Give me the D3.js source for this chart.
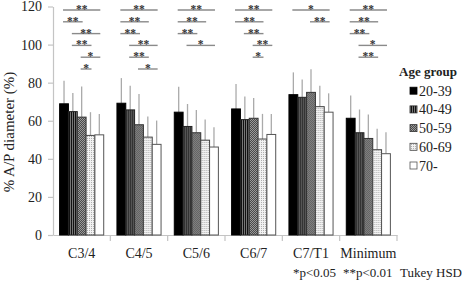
<!DOCTYPE html>
<html>
<head>
<meta charset="utf-8">
<script src="https://cdn.jsdelivr.net/npm/d3@7"></script>
<style>
  body { margin: 0; background: #fff; }
  svg { display: block; }
</style>
</head>
<body>
<svg id="chart" width="472" height="281"></svg>
<script>
// categories and age groups
var categories = ['C3/4', 'C4/5', 'C5/6', 'C6/7', 'C7/T1', 'Minimum'];
var ageGroups = ['20-39', '40-49', '50-59', '60-69', '70-'];
var yTicks = [0, 20, 40, 60, 80, 100, 120];

// mean values, one array per age group (order follows categories)
var age2039 = [68.9, 69.2, 64.5, 66.2, 73.7, 61.3];
var age4049 = [64.8, 65.7, 57.0, 60.6, 72.3, 53.7];
var age5059 = [61.9, 57.9, 53.7, 61.3, 74.9, 50.7];
var age6069 = [52.3, 51.4, 49.8, 50.4, 67.4, 44.8];
var age70 = [52.6, 47.6, 46.2, 52.8, 64.5, 42.7];

// upper end of the error bars (mean + SD)
var err2039 = [81.0, 82.4, 77.9, 79.3, 85.4, 73.2];
var err4049 = [74.6, 78.4, 68.8, 72.8, 81.6, 65.9];
var err5059 = [78.0, 74.1, 65.7, 72.0, 87.1, 63.3];
var err6069 = [64.5, 62.2, 60.7, 63.6, 78.4, 55.8];
var err70 = [63.6, 60.1, 56.6, 63.6, 74.4, 54.0];

// significance brackets per category: [from group, to group, label], top row first
var sigC34 = [[0, 4, '**'], [0, 2, '**'], [1, 4, '**'], [1, 3, '**'], [2, 4, '*'], [2, 3, '*']];
var sigC45 = [[0, 4, '**'], [0, 3, '**'], [0, 2, '**'], [1, 4, '**'], [1, 3, '**'], [2, 4, '*']];
var sigC56 = [[0, 4, '**'], [0, 3, '**'], [0, 2, '**'], [1, 4, '*']];
var sigC67 = [[0, 4, '**'], [0, 3, '**'], [1, 3, '**'], [2, 4, '**'], [2, 3, '*']];
var sigC7T1 = [[0, 4, '*'], [2, 4, '**']];
var sigMin = [[0, 4, '**'], [0, 3, '**'], [0, 2, '**'], [1, 4, '*'], [1, 3, '**']];

var means = [age2039, age4049, age5059, age6069, age70];
var errs = [err2039, err4049, err5059, err6069, err70];
var sigs = [sigC34, sigC45, sigC56, sigC67, sigC7T1, sigMin];

var serif = 'Liberation Serif';

var svg = d3.select('#chart');
var defs = svg.append('defs');

// fills for the age groups
var p1 = defs.append('pattern').attr('id', 'pat4049').attr('patternUnits', 'userSpaceOnUse')
  .attr('width', 2).attr('height', 2);
p1.append('rect').attr('width', 2).attr('height', 2).attr('fill', '#777');
p1.append('rect').attr('width', 1).attr('height', 2).attr('fill', '#111');

var p2 = defs.append('pattern').attr('id', 'pat5059').attr('patternUnits', 'userSpaceOnUse')
  .attr('width', 2).attr('height', 2);
p2.append('rect').attr('width', 2).attr('height', 2).attr('fill', '#9a9a9a');
p2.append('rect').attr('width', 1).attr('height', 1).attr('fill', '#4a4a4a');
p2.append('rect').attr('x', 1).attr('y', 1).attr('width', 1).attr('height', 1).attr('fill', '#4a4a4a');

var p3 = defs.append('pattern').attr('id', 'pat6069').attr('patternUnits', 'userSpaceOnUse')
  .attr('width', 2).attr('height', 2);
p3.append('rect').attr('width', 2).attr('height', 2).attr('fill', '#f2f2f2');
p3.append('rect').attr('width', 1).attr('height', 1).attr('fill', '#b0b0b0');

var fills = ['#000', 'url(#pat4049)', 'url(#pat5059)', 'url(#pat6069)', '#fff'];
var strokes = ['#000', '#222', '#333', '#444', '#555'];

var plotLeft = 53, plotRight = 397, plotTop = 6.5, plotBottom = 235;

var x = d3.scaleBand().domain(categories).range([plotLeft, plotRight]);
var xs = d3.scaleBand().domain(ageGroups).range([0, x.bandwidth()]).paddingOuter(0.75);
var y = d3.scaleLinear().domain([0, 120]).range([plotBottom, plotTop]);

var axisColor = '#c4c4c4';

// y axis
var yAxis = svg.append('g').attr('transform', 'translate(' + plotLeft + ',0)')
  .call(d3.axisLeft(y).tickValues(yTicks).tickSize(5).tickPadding(6).tickSizeOuter(0))
  .attr('font-family', serif).attr('font-size', 14);
yAxis.select('.domain').attr('stroke', axisColor).attr('stroke-width', 1.2);
yAxis.selectAll('.tick line').attr('stroke', axisColor).attr('stroke-width', 1.2);
yAxis.selectAll('.tick text').attr('fill', '#222');

// x axis
var xAxis = svg.append('g').attr('transform', 'translate(0,' + plotBottom + ')')
  .call(d3.axisBottom(x).tickSize(0).tickPadding(13))
  .attr('font-family', serif).attr('font-size', 14);
xAxis.select('.domain').attr('stroke', axisColor).attr('stroke-width', 1.2);
xAxis.selectAll('.tick text').attr('fill', '#222');
// tick marks at the group boundaries
xAxis.selectAll('.sep')
  .data(categories)
  .enter().append('line')
  .attr('class', 'sep')
  .attr('x1', function(d) { return x(d) + x.bandwidth(); })
  .attr('x2', function(d) { return x(d) + x.bandwidth(); })
  .attr('y1', 0).attr('y2', 6)
  .attr('stroke', axisColor).attr('stroke-width', 1.2);

// y axis title
svg.append('text')
  .attr('transform', 'translate(14,132) rotate(-90)')
  .attr('text-anchor', 'middle')
  .attr('font-family', serif).attr('font-size', 15).attr('fill', '#222')
  .text('% A/P diameter (%)');

// bars
var groups = svg.selectAll('g.cat')
  .data(categories)
  .enter().append('g')
  .attr('class', 'cat')
  .attr('transform', function(d) { return 'translate(' + x(d) + ',0)'; });

groups.each(function(cat, ci) {
  var g = d3.select(this);
  ageGroups.forEach(function(ag, ai) {
    var cx = xs(ag) + xs.bandwidth() / 2;
    g.append('line')
      .attr('x1', cx).attr('x2', cx)
      .attr('y1', y(means[ai][ci])).attr('y2', y(errs[ai][ci]))
      .attr('stroke', '#aaa').attr('stroke-width', 1.3);
    g.append('rect')
      .attr('x', xs(ag)).attr('width', xs.bandwidth())
      .attr('y', y(means[ai][ci])).attr('height', plotBottom - y(means[ai][ci]))
      .attr('fill', fills[ai])
      .attr('stroke', strokes[ai]).attr('stroke-width', 1);
  });

  // significance brackets
  var sg = g.append('g').attr('opacity', 0.999);
  sigs[ci].forEach(function(s, row) {
    var ly = 10 + row * 11.8;
    var x1 = xs(ageGroups[s[0]]) + xs.bandwidth() / 2 - 1;
    var x2 = xs(ageGroups[s[1]]) + xs.bandwidth() / 2 + 1;
    sg.append('line')
      .attr('x1', x1).attr('x2', x2)
      .attr('y1', ly).attr('y2', ly)
      .attr('stroke', '#8a8a8a').attr('stroke-width', 1.4);
    sg.append('text')
      .attr('x', (x1 + x2) / 2).attr('y', ly + 3)
      .attr('text-anchor', 'middle')
      .attr('font-family', serif).attr('font-size', 11.5).attr('font-weight', 'bold')
      .attr('fill', '#333')
      .text(s[2]);
  });
});

// legend
var legend = svg.append('g').attr('transform', 'translate(399,0)')
  .attr('font-family', serif);
legend.append('text')
  .attr('x', 0).attr('y', 76)
  .attr('font-size', 13).attr('font-weight', 'bold').attr('fill', '#222')
  .text('Age group');
ageGroups.forEach(function(ag, i) {
  var cy = 90.7 + i * 18.7;
  legend.append('rect')
    .attr('x', 11).attr('y', cy - 3.5).attr('width', 7).attr('height', 7)
    .attr('fill', fills[i]).attr('stroke', strokes[i]).attr('stroke-width', 0.8);
  legend.append('text')
    .attr('x', 20).attr('y', cy + 5)
    .attr('font-size', 14).attr('fill', '#222')
    .text(ag);
});

// footnote
var note = svg.append('text').attr('y', 277)
  .attr('font-family', serif).attr('font-size', 13).attr('fill', '#222');
note.append('tspan').attr('x', 293).text('*p<0.05');
note.append('tspan').attr('x', 343).text('**p<0.01');
note.append('tspan').attr('x', 400).text('Tukey HSD');
</script>
</body>
</html>
